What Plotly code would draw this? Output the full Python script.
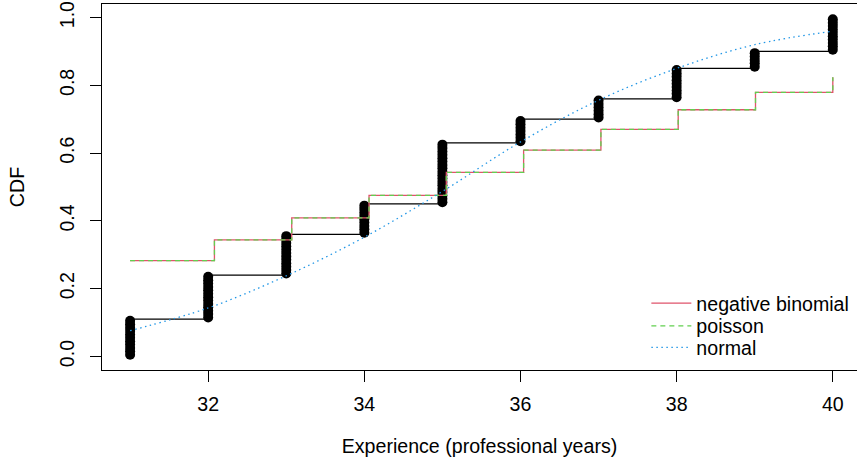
import numpy as np
import plotly.graph_objects as go

# ---- data ----
experience_years = [31, 32, 33, 34, 35, 36, 37, 38, 39, 40]
observed_counts = [11, 13, 12, 9, 18, 7, 6, 9, 5, 10]
negbin_cdf = [0.283, 0.344, 0.409, 0.475, 0.543, 0.609, 0.670, 0.728, 0.779, 0.824]
poisson_cdf = [0.283, 0.344, 0.409, 0.475, 0.543, 0.609, 0.670, 0.728, 0.779, 0.824]
normal_cdf = [0.076, 0.143, 0.238, 0.352, 0.487, 0.633, 0.756, 0.850, 0.920, 0.960]
series_names = ["negative binomial", "poisson", "normal"]
x_ticks = [32, 34, 36, 38, 40]
y_ticks = [0.0, 0.2, 0.4, 0.6, 0.8, 1.0]
y_tick_labels = ["0.0", "0.2", "0.4", "0.6", "0.8", "1.0"]

FONT = "Liberation Sans, Arial, Helvetica, sans-serif"
FS = 19.6
RED, GREEN, BLUE = "#DF536B", "#61D04F", "#2297E6"

n = sum(observed_counts)
cum = np.cumsum(observed_counts)
start = cum - np.array(observed_counts)

# empirical points (stacked)
px, py = [], []
for k, c, s in zip(experience_years, observed_counts, start):
    for j in range(c):
        px.append(k)
        py.append((s + j + 0.5) / n)

# empirical horizontal steps
hx, hy = [], []
for i in range(len(experience_years) - 1):
    hx += [experience_years[i], experience_years[i + 1], None]
    hy += [cum[i] / n, cum[i] / n, None]

# plotting grid for discrete theoretical CDFs (step function evaluated on grid)
grid = np.linspace(experience_years[0], experience_years[-1], 101)
idx = np.searchsorted(experience_years, grid, side="right") - 1
nb_y = np.array(negbin_cdf)[idx]
po_y = np.array(poisson_cdf)[idx]

fig = go.Figure()
fig.add_trace(go.Scatter(x=hx, y=hy, mode="lines", line=dict(color="black", width=1.3),
                         showlegend=False, hoverinfo="skip"))
fig.add_trace(go.Scatter(x=px, y=py, mode="markers",
                         marker=dict(color="black", size=10, line=dict(width=0)),
                         showlegend=False))
fig.add_trace(go.Scatter(x=grid, y=nb_y, mode="lines", line_shape="hv",
                         line=dict(color=RED, width=1.3), name=series_names[0],
                         legend="legend"))
fig.add_trace(go.Scatter(x=grid, y=po_y, mode="lines", line_shape="hv",
                         line=dict(color=GREEN, width=1.3, dash="5px,4px"), name=series_names[1],
                         legend="legend2"))
fig.add_trace(go.Scatter(x=experience_years, y=normal_cdf, mode="lines", line_shape="spline",
                         line=dict(color=BLUE, width=1.3, dash="1.5px,3.5px"), name=series_names[2],
                         legend="legend3"))

leg_common = dict(xanchor="left", yanchor="middle", bgcolor="rgba(0,0,0,0)",
                  font=dict(size=FS, family=FONT, color="black"), itemwidth=40, x=0.721)
fig.update_layout(
    width=857, height=463,
    margin=dict(l=102, r=0, t=4, b=93),
    plot_bgcolor="white", paper_bgcolor="white",
    font=dict(family=FONT, size=FS, color="black"),
    legend=dict(y=0.182, **leg_common),
    legend2=dict(y=0.120, **leg_common),
    legend3=dict(y=0.061, **leg_common),
)
fig.update_xaxes(
    range=[30.64, 40.31], tickvals=x_ticks, ticks="outside", ticklen=11,
    tickwidth=1.3, tickcolor="black", showline=True, linecolor="black",
    linewidth=1.3, mirror=True, showgrid=False, zeroline=False,
    ticklabelstandoff=5,
    title=dict(text="Experience (professional years)", standoff=25,
               font=dict(size=FS, family=FONT, color="black")),
)
fig.update_yaxes(
    range=[-0.04, 1.04], tickvals=y_ticks, ticktext=y_tick_labels, tickangle=-90,
    ticks="outside", ticklen=11, tickwidth=1.3, tickcolor="black",
    showline=True, linecolor="black", linewidth=1.3, mirror=False,
    showgrid=False, zeroline=False, ticklabelstandoff=8,
    title=dict(text="CDF", standoff=26,
               font=dict(size=FS, family=FONT, color="black")),
)

fig.write_html("out.html", config={"displayModeBar": False},
               post_script="document.body.style.margin='0px';")
